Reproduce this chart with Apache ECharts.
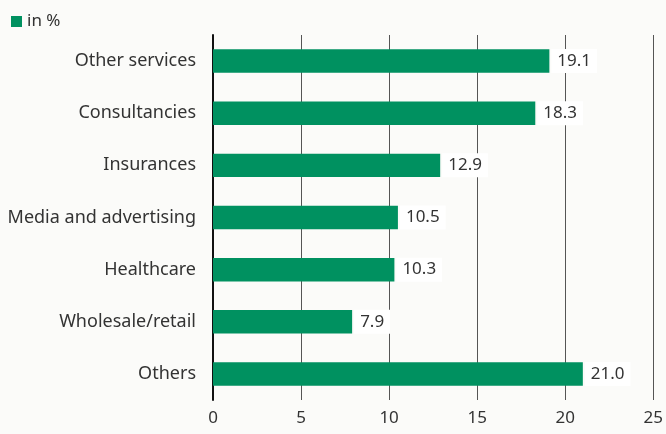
<!DOCTYPE html>
<html>
<head>
<meta charset="utf-8">
<script src="https://cdn.jsdelivr.net/npm/echarts@6/dist/echarts.min.js"></script>
<style>
  html, body { margin: 0; padding: 0; background: #fbfbf9; }
  #chart { width: 666px; height: 434px; }
</style>
</head>
<body>
<div id="chart"></div>
<script>
    // 数据
    var categories = ['Other services', 'Consultancies', 'Insurances', 'Media and advertising', 'Healthcare', 'Wholesale/retail', 'Others'];
    var shares = [19.1, 18.3, 12.9, 10.5, 10.3, 7.9, 21.0];
    var xTicks = [0, 5, 10, 15, 20, 25];

    var green = '#009160';
    var font = 'Noto Sans';

    var chart = echarts.init(document.getElementById('chart'));

    chart.setOption({
        backgroundColor: '#fbfbf9',
        textStyle: { fontFamily: font },
        animation: false,
        legend: {
            data: ['in %'],
            left: 6,
            top: 8,
            icon: 'rect',
            itemWidth: 11,
            itemHeight: 11,
            itemGap: 4,
            textStyle: { fontSize: 17, color: '#333', fontFamily: font }
        },
        grid: { left: 213, right: 11, top: 35, bottom: 34, containLabel: false },
        xAxis: {
            type: 'value',
            min: xTicks[0],
            max: xTicks[xTicks.length - 1],
            interval: 5,
            axisLine: { show: false },
            axisTick: { show: false },
            axisLabel: { fontSize: 17, color: '#333', margin: 10, fontFamily: font },
            splitLine: { show: true, lineStyle: { color: '#555', width: 1 } }
        },
        yAxis: {
            type: 'category',
            data: categories,
            inverse: true,
            axisLine: { show: true, lineStyle: { color: '#111', width: 2 } },
            axisTick: { show: false },
            axisLabel: { fontSize: 18, color: '#333', margin: 17, fontFamily: font }
        },
        series: [{
            name: 'in %',
            type: 'bar',
            data: shares,
            barWidth: '45%',
            itemStyle: { color: green },
            label: {
                show: true,
                position: 'right',
                distance: 2,
                backgroundColor: '#fff',
                padding: [4, 6, 3, 6],
                fontSize: 17,
                color: '#333',
                fontFamily: font,
                formatter: function (p) { return p.value.toFixed(1); }
            }
        }]
    });
</script>
</body>
</html>
